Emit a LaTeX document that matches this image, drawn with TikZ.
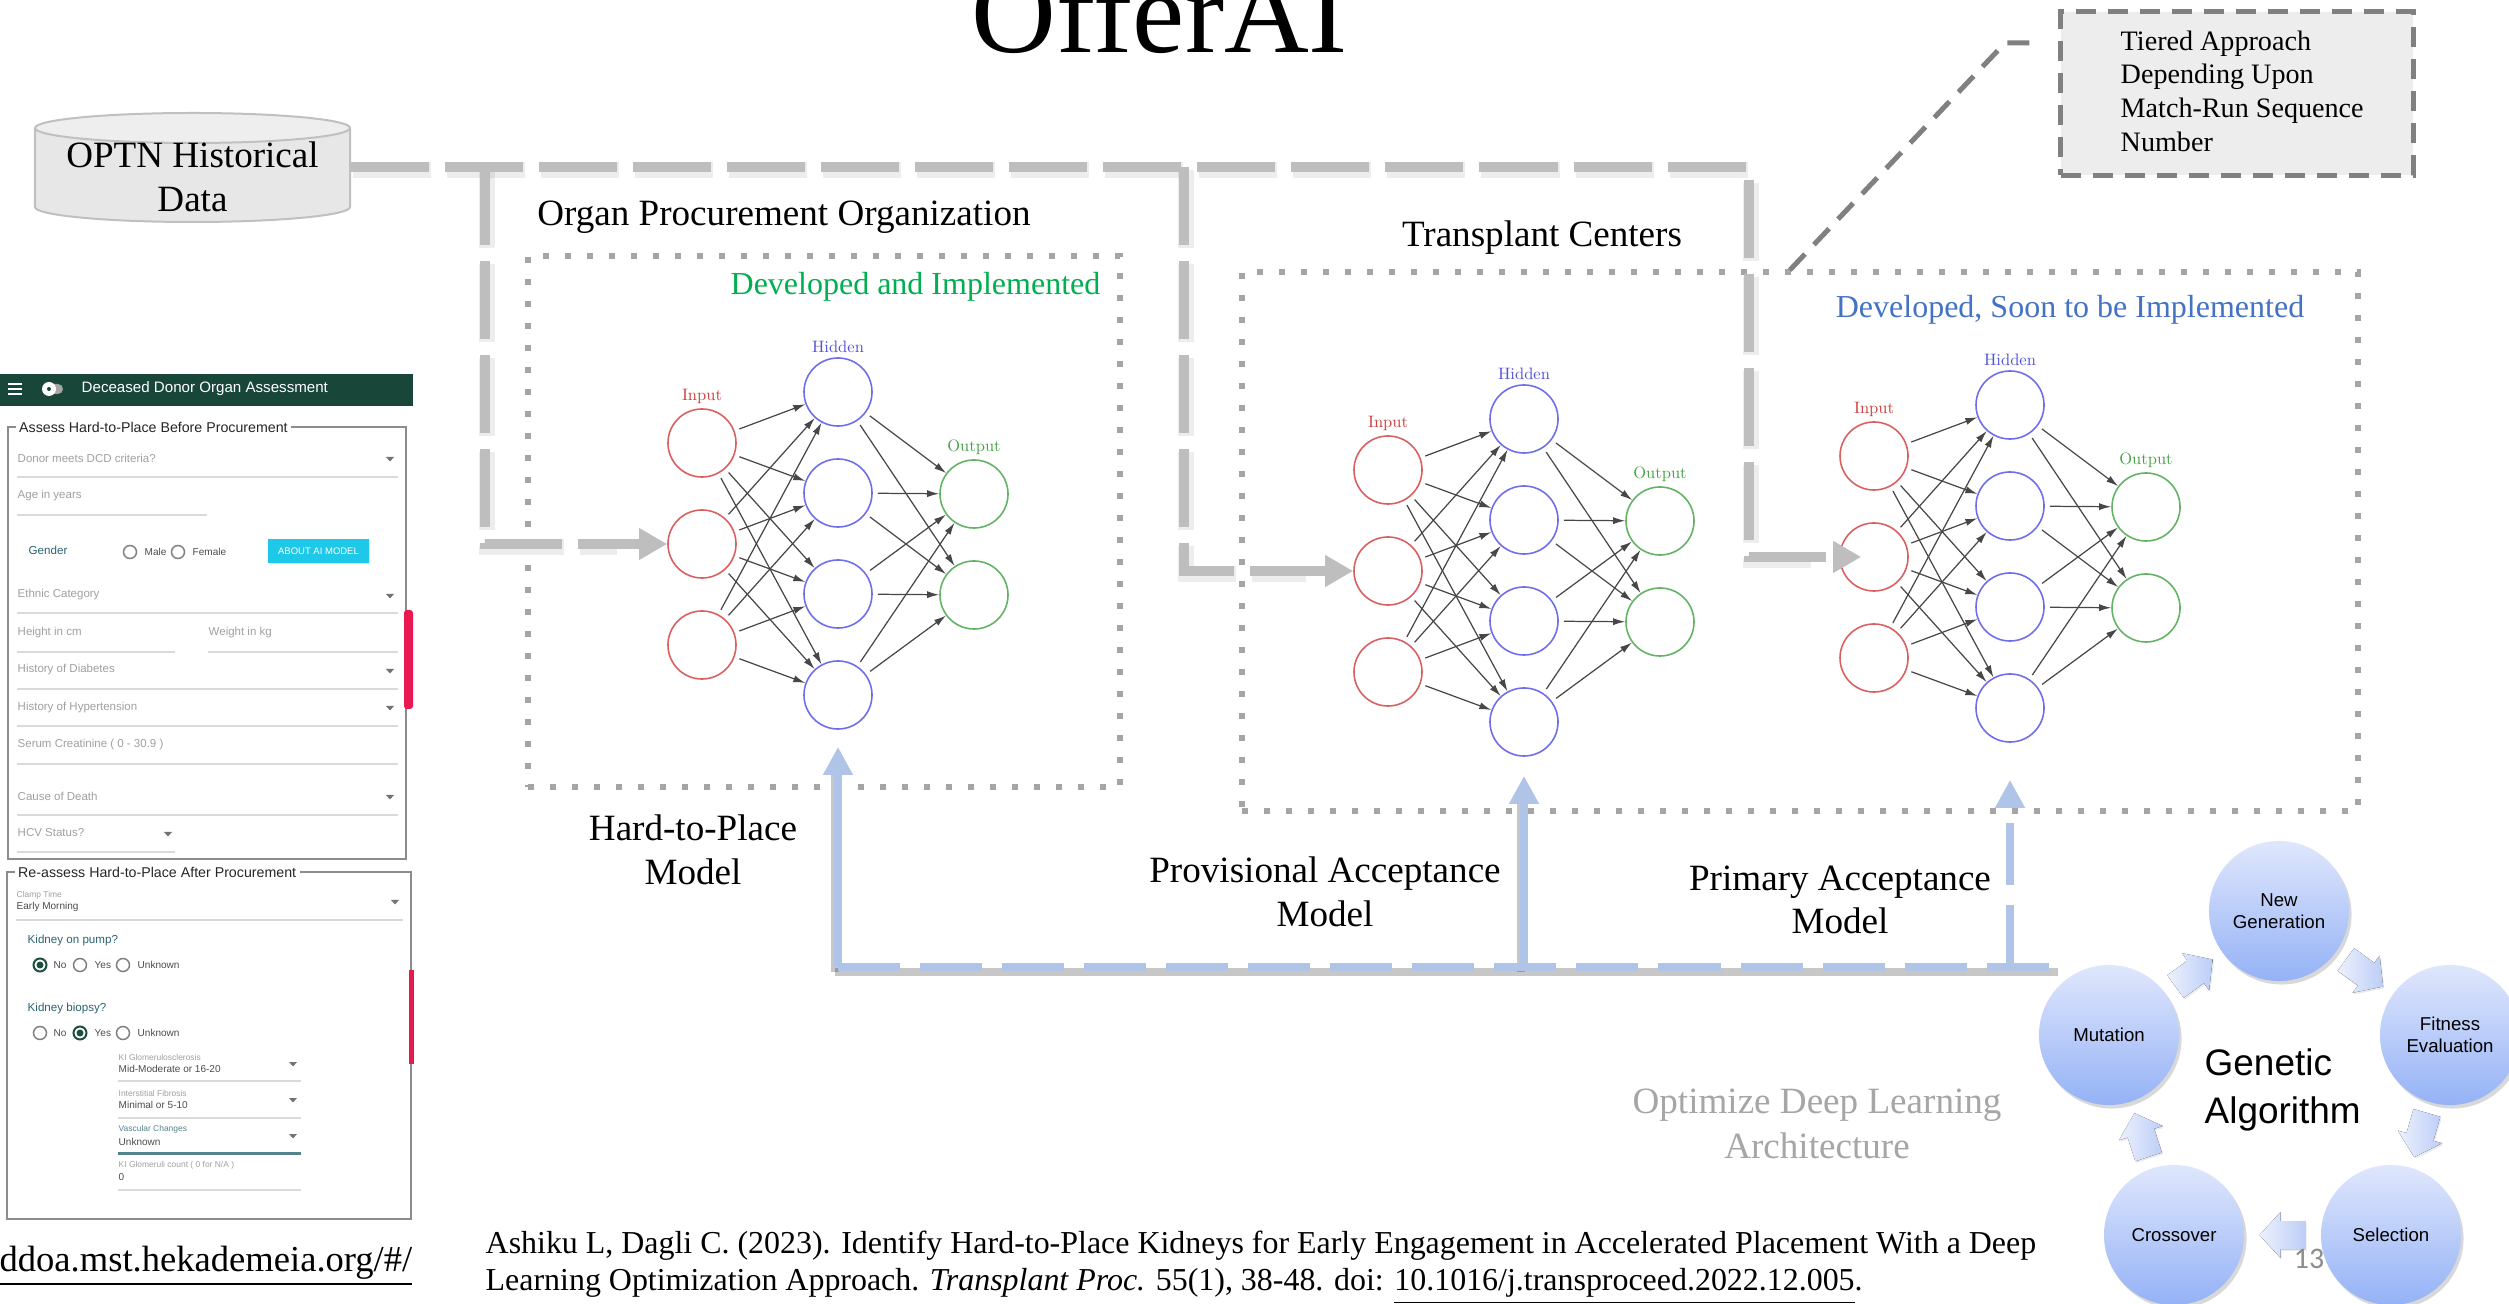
\documentclass[tikz,border=0pt]{standalone}
\usepackage{fontspec}
\usetikzlibrary{arrows.meta,shadows,calc}
\newfontfamily\tnr{Liberation Serif}
\newfontfamily\arial{Liberation Sans}
\newfontfamily\calibri{Carlito}
\newfontfamily\cmten{lmroman10-regular.otf}
\newcommand\fsz[2]{\fontsize{#1pt}{#2pt}\selectfont}

\definecolor{netred}{RGB}{218,96,96}
\definecolor{netredtxt}{RGB}{205,60,60}
\definecolor{netblue}{RGB}{110,110,236}
\definecolor{netbluetxt}{RGB}{80,80,220}
\definecolor{netgreen}{RGB}{100,178,100}
\definecolor{netgreentxt}{RGB}{70,160,70}
\definecolor{devgreen}{RGB}{0,176,80}
\definecolor{devblue}{RGB}{68,114,196}
\definecolor{pipegray}{RGB}{190,190,190}
\definecolor{feedblue}{RGB}{176,196,232}
\definecolor{dotgray}{RGB}{165,165,165}
\definecolor{softgray}{RGB}{166,166,166}
\definecolor{tierfill}{RGB}{237,237,237}
\definecolor{tierline}{RGB}{128,128,128}
\definecolor{cylfill}{RGB}{231,231,231}
\definecolor{cyltop}{RGB}{238,238,238}
\definecolor{cylline}{RGB}{192,192,192}
\definecolor{gatop}{RGB}{224,231,252}
\definecolor{gabot}{RGB}{148,178,246}
\definecolor{gaarrowa}{RGB}{236,241,253}
\definecolor{gaarrowb}{RGB}{188,205,247}
\definecolor{appgreen}{RGB}{24,70,56}
\definecolor{fieldgray}{RGB}{160,160,160}
\definecolor{rulegray}{RGB}{218,218,218}
\definecolor{formteal}{RGB}{42,100,112}
\definecolor{cyanbtn}{RGB}{30,200,232}
\definecolor{pinktab}{RGB}{232,24,80}
\definecolor{radiogreen}{RGB}{30,80,64}
\definecolor{pagenum}{RGB}{140,140,140}

\tikzset{
  neuron/.style={circle, minimum size=0.68cm, inner sep=0pt, line width=0.45pt, fill=white},
  synapse/.style={-{Latex[length=0.12cm,width=0.07cm]}, draw=black!72, line width=0.35pt, shorten <=0.05cm},
  netlabel/.style={inner sep=0pt, font=\cmten\fsz{4.7}{5.5}},
  pipe/.style={draw=pipegray, line width=0.1cm, dash pattern=on 0.78cm off 0.16cm},
  pipeshade/.style={draw=black, draw opacity=0.07, line width=0.16cm, dash pattern=on 0.78cm off 0.16cm, transform canvas={shift={(0.02cm,-0.03cm)}}},
  pipetip/.style={-{Triangle[length=0.28cm,width=0.3cm]}},
  feed/.style={draw=feedblue, line width=0.08cm},
  feedtip/.style={-{Triangle[length=0.28cm,width=0.28cm]}},
  feeddash/.style={dash pattern=on 0.62cm off 0.2cm},
  feedshade/.style={draw=black, draw opacity=0.22, line width=0.08cm, transform canvas={shift={(-0.03cm,-0.05cm)}}},
  dotbox/.style={draw=dotgray, line width=0.06cm, dash pattern=on 0.06cm off 0.16cm, inner sep=0pt},
  serif/.style={font=\tnr\fsz{10.55}{12.4}, align=center, inner sep=0pt},
  devtxt/.style={font=\tnr\fsz{9.1}{10}, inner sep=0pt},
  tierbox/.style={draw=tierline, fill=tierfill, line width=0.05cm, dash pattern=on 0.2cm off 0.12cm, inner sep=0pt},
  tierlink/.style={draw=tierline, line width=0.05cm, dash pattern=on 0.22cm off 0.13cm},
  gacirc/.style={circle, minimum size=1.4cm, inner sep=0pt, top color=gatop, bottom color=gabot, draw=none, align=center, font=\arial\fsz{5.3}{6.2}, drop shadow={shadow xshift=0.025cm, shadow yshift=-0.035cm, opacity=0.3}},
  gablockfill/.style={left color=gaarrowa, right color=gaarrowb, drop shadow={shadow xshift=0.012cm, shadow yshift=-0.018cm, opacity=0.15}},
  ph/.style={anchor=west, inner sep=0pt, font=\arial\fsz{3.27}{3.5}, text=fieldgray},
  lbl/.style={anchor=west, inner sep=0pt, font=\arial\fsz{3.3}{3.5}, text=formteal},
  val/.style={anchor=west, inner sep=0pt, font=\arial\fsz{2.85}{3}, text=black!70},
  tinycap/.style={anchor=west, inner sep=0pt, font=\arial\fsz{2.4}{2.6}, text=fieldgray},
  fslegend/.style={anchor=west, inner xsep=1pt, inner ysep=0pt, fill=white, font=\arial\fsz{4.04}{4.3}, text=black!85},
  uline/.style={draw=rulegray, line width=0.015cm},
  aibtn/.style={fill=cyanbtn, text=white, minimum width=1.01cm, minimum height=0.24cm, inner sep=0pt, font=\arial\fsz{2.7}{3}, drop shadow={shadow xshift=0.01cm, shadow yshift=-0.01cm, opacity=0.25}}
}

% one three-four-two feed-forward network, placed by its first input neuron
\newcommand\nnet[3]{%
  \begin{scope}[shift={(#2,#3)}]
    \foreach \k in {1,2,3} \node[neuron, draw=netred] (#1i\k) at (0,{101*(\k-1)}) {};
    \foreach \k in {1,...,4} \node[neuron, draw=netblue] (#1h\k) at (136,{-51+101*(\k-1)}) {};
    \foreach \k in {1,2} \node[neuron, draw=netgreen] (#1o\k) at (272,{51+101*(\k-1)}) {};
    \node[netlabel, text=netredtxt] (#1li) at (0,-47) {Input};
    \node[netlabel, text=netbluetxt] (#1lh) at (136,-96) {Hidden};
    \node[netlabel, text=netgreentxt] (#1lo) at (272,4) {Output};
  \end{scope}
  \foreach \a in {1,2,3} \foreach \b in {1,...,4} \draw[synapse] (#1i\a) -- (#1h\b);
  \foreach \a in {1,...,4} \foreach \b in {1,2} \draw[synapse] (#1h\a) -- (#1o\b);
}
% chunky block arrow between two stages of the cycle, pointing from #1 to #2
\newcommand\gablock[3]{%
  \begin{scope}[shift={($(#1)!0.5!(#2)$)}, rotate=#3]
    \fill[gablockfill] (-23,-14) -- (2,-14) -- (2,-23) -- (23,0) -- (2,23) -- (2,14) -- (-23,14) -- cycle;
  \end{scope}
}
\newcommand\dropdn[2]{\fill[black!55] (#1-4,#2-2) -- (#1+4,#2-2) -- (#1,#2+2.5) -- cycle;}
\newcommand\radio[2]{\draw[black!50, line width=0.015cm] (#1,#2) circle[radius=6.5];}
\newcommand\radiosel[2]{\draw[radiogreen, line width=0.02cm] (#1,#2) circle[radius=6.5]; \fill[radiogreen] (#1,#2) circle[radius=3.5];}

\begin{document}
\begin{tikzpicture}[x=0.01cm,y=-0.01cm]
\useasboundingbox (0,0) rectangle (2509,1304);
\fill[white] (0,0) rectangle (2509,1304);

% ---------- title ----------
\node[font=\tnr\fsz{33.4}{36}, anchor=base, inner sep=0pt] (title) at (1160,53) {OfferAI};

% ---------- historical data store ----------
\fill[cylfill] (35,128) -- (35,207) arc[start angle=180, end angle=0, x radius=157.5, y radius=15] -- (350,128) -- cycle;
\draw[cylline, line width=0.02cm] (35,128) -- (35,207) arc[start angle=180, end angle=0, x radius=157.5, y radius=15] -- (350,128);
\draw[cylline, fill=cyltop, line width=0.02cm] (192.5,128) ellipse[x radius=157.5, y radius=15];
\node[minimum width=3.15cm, minimum height=1.1cm, inner sep=0pt] (optn) at (192.5,167) {};
\node[serif] (optnlabel) at (192.5,177) {OPTN Historical\\Data};

% ---------- containers ----------
\node[dotbox, minimum width=5.92cm, minimum height=5.31cm] (opobox) at (824,521.5) {};
\node[dotbox, minimum width=11.16cm, minimum height=5.39cm] (tcbox) at (1800,541.5) {};

\node[serif] (opolabel) at (784,217) {Organ Procurement Organization};
\node[serif] (tclabel) at (1542,238) {Transplant Centers};
\node[devtxt, text=devgreen, anchor=east] (devimp) at (1101,287) {Developed and Implemented};
\node[devtxt, text=devblue] (devsoon) at (2070,310) {Developed, Soon to be Implemented};

% ---------- tiered approach note ----------
\node[tierbox, minimum width=3.52cm, minimum height=1.63cm] (tier) at (2237,93.5) {};
\node[anchor=west, inner sep=0pt, align=left, font=\tnr\fsz{8}{9.56}] (tiertext) at (2120,91) {Tiered Approach\\Depending Upon\\Match-Run Sequence\\Number};
\coordinate (tcport) at (1788,272);
\draw[tierlink, shorten <=0.29cm] (tier.west |- 0,43) -- (2005,43) -- (tcport);

% ---------- the three networks ----------
\nnet{n1}{702}{443}
\nnet{n2}{1388}{470}
\nnet{n3}{1874}{456}

% ---------- data pipeline from the historical store ----------
\coordinate (j0) at (1749,167);
\coordinate (j1) at (485,167);
\coordinate (j2) at (1184,167);
\draw[pipeshade] (optn.east) -- (j0) -- (j0 |- n3i2) -- ++(60,0);
\draw[pipeshade] (j1) -- (j1 |- n1i2) -- ++(130,0);
\draw[pipeshade] (j2) -- (j2 |- n2i2) -- ++(120,0);
\draw[pipe, pipetip, shorten >=-0.22cm] (optn.east) -- (j0) |- (n3i2);
\draw[pipe, pipetip] (j1) |- (n1i2);
\draw[pipe, pipetip] (j2) |- (n2i2);

% ---------- model names ----------
\node[serif] (htp) at (693,850) {Hard-to-Place\\Model};
\node[serif] (pam) at (1325,892) {Provisional Acceptance\\Model};
\node[serif] (prim) at (1840,900) {Primary Acceptance\\Model};
\node[serif, text=softgray, font=\tnr\fsz{10.55}{12.8}] (optarch) at (1817,1124) {Optimize Deep Learning\\Architecture};

% ---------- genetic algorithm cycle ----------
\node[gacirc] (ganew) at (2279,911) {New\\Generation};
\node[gacirc] (gafit) at (2450,1035) {Fitness\\Evaluation};
\node[gacirc] (gasel) at (2391,1235) {Selection};
\node[gacirc] (gacross) at (2174,1235) {Crossover};
\node[gacirc] (gamut) at (2109,1035) {Mutation};
\gablock{gamut}{ganew}{36}
\gablock{ganew}{gafit}{-36}
\gablock{gafit}{gasel}{-106}
\gablock{gasel}{gacross}{180}
\gablock{gacross}{gamut}{108}
\node[anchor=west, inner sep=0pt, align=left, font=\arial\fsz{10.5}{13.4}] (gatitle) at (2204,1090) {Genetic\\Algorithm};

% ---------- feedback from the optimizer to the models ----------
\coordinate (fbbase) at (831,967);
\coordinate (fbend) at (2061,967);
\draw[feedshade] (fbbase -| n1h4) -- (fbend);
\draw[feedshade] (fbbase -| n1h4) -- ++(0,-200);
\draw[feedshade] (fbbase -| n2h4) -- ++(0,-170);
\draw[feed, feeddash] (fbbase -| n1h4) -- (fbend);
\draw[feed, feedtip, shorten >=0.17cm] (fbbase -| n1h4) -- (n1h4);
\draw[feed, feedtip, shorten >=0.19cm] (fbbase -| n2h4) -- (n2h4);
\draw[feed, feedtip, feeddash, shorten >=0.37cm] (fbbase -| n3h4) -- (n3h4);

% ---------- page number ----------
\node[font=\calibri\fsz{8.5}{9}, text=pagenum, inner sep=0pt] (pgno) at (2309,1259) {13};

% ---------- reference ----------
\node[anchor=west, inner sep=0pt, align=left, font=\tnr\fsz{9.08}{10.5}] (cite) at (485,1268) {Ashiku L, Dagli C. (2023). Identify Hard-to-Place Kidneys for Early Engagement in Accelerated Placement With a Deep\\Learning Optimization Approach. \textit{Transplant Proc.} 55(1), 38-48. doi: \underline{10.1016/j.transproceed.2022.12.005}.};
\node[anchor=base east, inner sep=0pt, font=\tnr\fsz{10.4}{11}] (url) at (413,1271) {\underline{ddoa.mst.hekademeia.org/\#/}};

% ---------- web form: header ----------
\fill[appgreen] (0,374) rectangle (413,406);
\foreach \yy in {384,389,394} \draw[white, line width=0.02cm] (8,\yy) -- (22,\yy);
\fill[black!35, rounded corners=0.05cm] (43,384) rectangle (63,394);
\fill[white] (49,389) circle[radius=7];
\fill[appgreen] (49,389) circle[radius=2];
\node[anchor=west, inner sep=0pt, text=white, font=\arial\fsz{4.3}{4.5}] (apptitle) at (81,389) {Deceased Donor Organ Assessment};

% ---------- web form: before procurement ----------
\draw[black!45, line width=0.015cm] (8,427) rectangle (406,859);
\node[fslegend] (lg1) at (15,427) {Assess Hard-to-Place Before Procurement};
\node[ph] (f1) at (17,458) {Donor meets DCD criteria?};
\dropdn{390}{459} \draw[uline] (17,477) -- (398,477);
\node[ph] (f2) at (17,496) {Age in years};
\draw[uline] (17,515) -- (207,515);
\node[lbl] (f3) at (28,550) {Gender};
\radio{130}{552} \node[val] (f3a) at (144,552) {Male};
\radio{178}{552} \node[val] (f3b) at (192,552) {Female};
\node[aibtn] (aibutton) at (318.5,551) {ABOUT AI MODEL};
\node[ph] (f4) at (17,595) {Ethnic Category};
\dropdn{390}{596} \draw[uline] (17,613) -- (398,613);
\node[ph] (f5) at (17,633) {Height in cm};
\draw[uline] (17,652) -- (175,652);
\node[ph] (f6) at (208,633) {Weight in kg};
\draw[uline] (208,652) -- (398,652);
\node[ph] (f7) at (17,670) {History of Diabetes};
\dropdn{390}{671} \draw[uline] (17,689) -- (398,689);
\node[ph] (f8) at (17,708) {History of Hypertension};
\dropdn{390}{708} \draw[uline] (17,726) -- (398,726);
\node[ph] (f9) at (17,745) {Serum Creatinine ( 0 - 30.9 )};
\draw[uline] (17,764) -- (398,764);
\node[ph] (f10) at (17,796) {Cause of Death};
\dropdn{390}{797} \draw[uline] (17,815) -- (398,815);
\node[ph] (f11) at (17,833) {HCV Status?};
\dropdn{168}{834} \draw[uline] (17,852) -- (175,852);
\fill[pinktab, rounded corners=0.03cm] (404,610) rectangle (413,709);

% ---------- web form: after procurement ----------
\draw[black!45, line width=0.015cm] (7,872) rectangle (411,1219);
\node[fslegend] (lg2) at (14,872) {Re-assess Hard-to-Place After Procurement};
\node[tinycap] (g1) at (16,895) {Clamp Time};
\node[val] (g1v) at (16,907) {Early Morning};
\dropdn{395}{902} \draw[uline] (16,920) -- (403,920);
\node[lbl] (g2) at (27,941) {Kidney on pump?};
\radiosel{40}{965} \node[val] (g2a) at (53,965) {No};
\radio{80}{965} \node[val] (g2b) at (94,965) {Yes};
\radio{123}{965} \node[val] (g2c) at (137,965) {Unknown};
\node[lbl] (g3) at (27,1008) {Kidney biopsy?};
\radio{40}{1033} \node[val] (g3a) at (53,1033) {No};
\radiosel{80}{1033} \node[val] (g3b) at (94,1033) {Yes};
\radio{123}{1033} \node[val] (g3c) at (137,1033) {Unknown};
\node[tinycap] (g4) at (118,1057) {KI Glomerulosclerosis};
\node[val] (g4v) at (118,1069) {Mid-Moderate or 16-20};
\dropdn{293}{1064} \draw[uline] (118,1081) -- (301,1081);
\node[tinycap] (g5) at (118,1093) {Interstitial Fibrosis};
\node[val] (g5v) at (118,1105) {Minimal or 5-10};
\dropdn{293}{1100} \draw[uline] (118,1118) -- (301,1118);
\node[tinycap, text=formteal!80] (g6) at (118,1129) {Vascular Changes};
\node[val] (g6v) at (118,1142) {Unknown};
\dropdn{293}{1136} \draw[formteal!80, line width=0.03cm] (118,1153) -- (301,1153);
\node[tinycap] (g7) at (118,1165) {KI Glomeruli count ( 0 for N/A )};
\node[val] (g7v) at (118,1177) {0};
\draw[uline] (118,1190) -- (301,1190);
\fill[pinktab] (409,970) rectangle (414,1064);
\end{tikzpicture}
\end{document}
